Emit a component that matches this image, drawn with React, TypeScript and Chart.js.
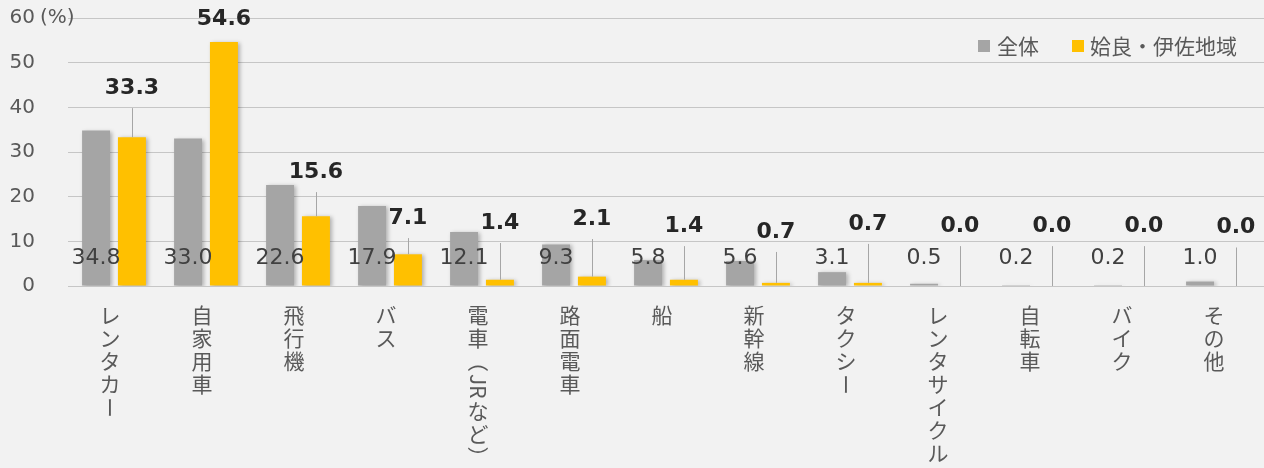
import React, { useEffect, useRef } from "react";
import { Chart, registerables } from "chart.js";
Chart.register(...registerables);

const categories = [
  "レンタカー", "自家用車", "飛行機", "バス", "電車（JRなど）", "路面電車", "船",
  "新幹線", "タクシー", "レンタサイクル", "自転車", "バイク", "その他",
];
const seriesNames = ["全体", "姶良・伊佐地域"];
const allValues = [34.8, 33.0, 22.6, 17.9, 12.1, 9.3, 5.8, 5.6, 3.1, 0.5, 0.2, 0.2, 1.0];
const regionValues = [33.3, 54.6, 15.6, 7.1, 1.4, 2.1, 1.4, 0.7, 0.7, 0.0, 0.0, 0.0, 0.0];
const yTicks = [0, 10, 20, 30, 40, 50, 60];
const unitLabel = "(%)";
// heights (in axis units) at which the region's callout labels sit
const regionLabelLevels = [44.3, 59.8, 25.5, 15.2, 14.1, 15.0, 13.4, 12.1, 13.9, 13.4, 13.4, 13.4, 13.1];

const GRAY = "#a5a5a5";
const YELLOW = "#ffc000";
const TEXT = "#595959";
const JP = "'Noto Sans CJK JP', 'Noto Sans', sans-serif";
const NUM = "'DejaVu Sans', Verdana, sans-serif";

type Tok = { t: string; rot: boolean };
function tokenize(s: string): Tok[] {
  const out: Tok[] = [];
  let i = 0;
  while (i < s.length) {
    const c = s[i];
    if (/[A-Za-z0-9]/.test(c)) {
      let j = i;
      while (j < s.length && /[A-Za-z0-9]/.test(s[j])) j++;
      out.push({ t: s.slice(i, j), rot: true });
      i = j;
    } else {
      out.push({ t: c, rot: "ー（）".includes(c) });
      i++;
    }
  }
  return out;
}

const decorPlugin = {
  id: "decor",
  beforeDatasetsDraw(chart: any) {
    const ctx = chart.ctx;
    ctx.save();
    ctx.shadowColor = "rgba(0,0,0,0.28)";
    ctx.shadowBlur = 4;
    ctx.shadowOffsetX = 2;
    ctx.shadowOffsetY = 1;
  },
  afterDatasetsDraw(chart: any) {
    const ctx = chart.ctx;
    ctx.restore();
    const area = chart.chartArea;
    const yScale = chart.scales.y;
    const m0 = chart.getDatasetMeta(0);
    const m1 = chart.getDatasetMeta(1);

    // gray value labels near the base
    ctx.save();
    ctx.font = `22px ${NUM}`;
    ctx.fillStyle = "#404040";
    ctx.textAlign = "center";
    ctx.textBaseline = "middle";
    allValues.forEach((v, i) => {
      const el = m0.data[i];
      ctx.fillText(v.toFixed(1), el.x, area.bottom - 28);
    });
    ctx.restore();

    // region callout labels with leader lines
    ctx.save();
    ctx.font = `bold 22px ${NUM}`;
    ctx.fillStyle = "#262626";
    ctx.textAlign = "center";
    ctx.textBaseline = "middle";
    ctx.strokeStyle = "#a6a6a6";
    ctx.lineWidth = 1;
    regionValues.forEach((v, i) => {
      const el = m1.data[i];
      const ly = yScale.getPixelForValue(regionLabelLevels[i]);
      ctx.fillText(v.toFixed(1), el.x, ly);
      const top = ly + 20;
      const bottom = el.y;
      if (bottom - top > 5) {
        const x = Math.round(el.x) + 0.5;
        ctx.beginPath();
        ctx.moveTo(x, top);
        ctx.lineTo(x, bottom);
        ctx.stroke();
      }
    });
    ctx.restore();

    // unit label next to top tick
    ctx.save();
    ctx.font = `20px ${NUM}`;
    ctx.fillStyle = TEXT;
    ctx.textAlign = "left";
    ctx.textBaseline = "middle";
    ctx.fillText(unitLabel, 40, yScale.getPixelForValue(60));
    ctx.restore();

    // legend
    ctx.save();
    ctx.font = `21px ${JP}`;
    ctx.textAlign = "left";
    ctx.textBaseline = "middle";
    const ly = 46;
    ctx.fillStyle = GRAY;
    ctx.fillRect(978, ly - 6, 12, 12);
    ctx.fillStyle = TEXT;
    ctx.fillText(seriesNames[0], 997, ly);
    ctx.fillStyle = YELLOW;
    ctx.fillRect(1072, ly - 6, 12, 12);
    ctx.fillStyle = TEXT;
    ctx.fillText(seriesNames[1], 1090, ly);
    ctx.restore();

    // vertical category labels
    ctx.save();
    ctx.font = `21px ${JP}`;
    ctx.fillStyle = TEXT;
    const step = 23;
    categories.forEach((c, i) => {
      const x = (m0.data[i].x + m1.data[i].x) / 2 - 4;
      let y = area.bottom + 18;
      tokenize(c).forEach((tk) => {
        if (!tk.rot) {
          ctx.textAlign = "center";
          ctx.textBaseline = "middle";
          ctx.fillText(tk.t, x, y + step / 2);
          y += step;
        } else {
          const w = ctx.measureText(tk.t).width;
          const adv = Math.max(w + 2, step);
          ctx.save();
          ctx.translate(x, y + (adv - w) / 2);
          ctx.rotate(Math.PI / 2);
          ctx.textAlign = "left";
          ctx.textBaseline = "middle";
          ctx.fillText(tk.t, 0, 0);
          ctx.restore();
          y += adv;
        }
      });
    });
    ctx.restore();
  },
};

export default function App() {
  const ref = useRef<HTMLCanvasElement | null>(null);
  useEffect(() => {
    if (!ref.current) return;
    const chart = new Chart(ref.current, {
      type: "bar",
      data: {
        labels: categories,
        datasets: [
          { label: seriesNames[0], data: allValues, backgroundColor: GRAY, barPercentage: 0.78, categoryPercentage: 0.78 },
          { label: seriesNames[1], data: regionValues, backgroundColor: YELLOW, barPercentage: 0.78, categoryPercentage: 0.78 },
        ],
      },
      options: {
        responsive: false,
        animation: false,
        devicePixelRatio: 1,
        layout: { padding: { top: 18, bottom: 182, left: 0, right: 0 } },
        plugins: { legend: { display: false }, tooltip: { enabled: false } },
        scales: {
          x: {
            grid: { display: false },
            border: { display: false },
            ticks: { display: false },
            afterFit: (s: any) => { s.height = 0; s.paddingLeft = 0; s.paddingRight = 0; },
          },
          y: {
            min: 0,
            max: 60,
            afterBuildTicks: (s: any) => { s.ticks = yTicks.map((v) => ({ value: v })); },
            ticks: { padding: 33, color: TEXT, font: { family: NUM, size: 20 } },
            grid: { color: "#c6c6c6", lineWidth: 1, drawTicks: false },
            border: { display: false },
            afterFit: (s: any) => { s.width = 68; s.paddingTop = 0; s.paddingBottom = 0; },
          },
        },
      },
      plugins: [decorPlugin],
    });
    return () => chart.destroy();
  }, []);
  return (
    <div style={{ position: "fixed", left: 0, top: 0, width: 1264, height: 468, background: "#f2f2f2" }}>
      <canvas ref={ref} width={1264} height={468} style={{ display: "block" }} />
    </div>
  );
}
